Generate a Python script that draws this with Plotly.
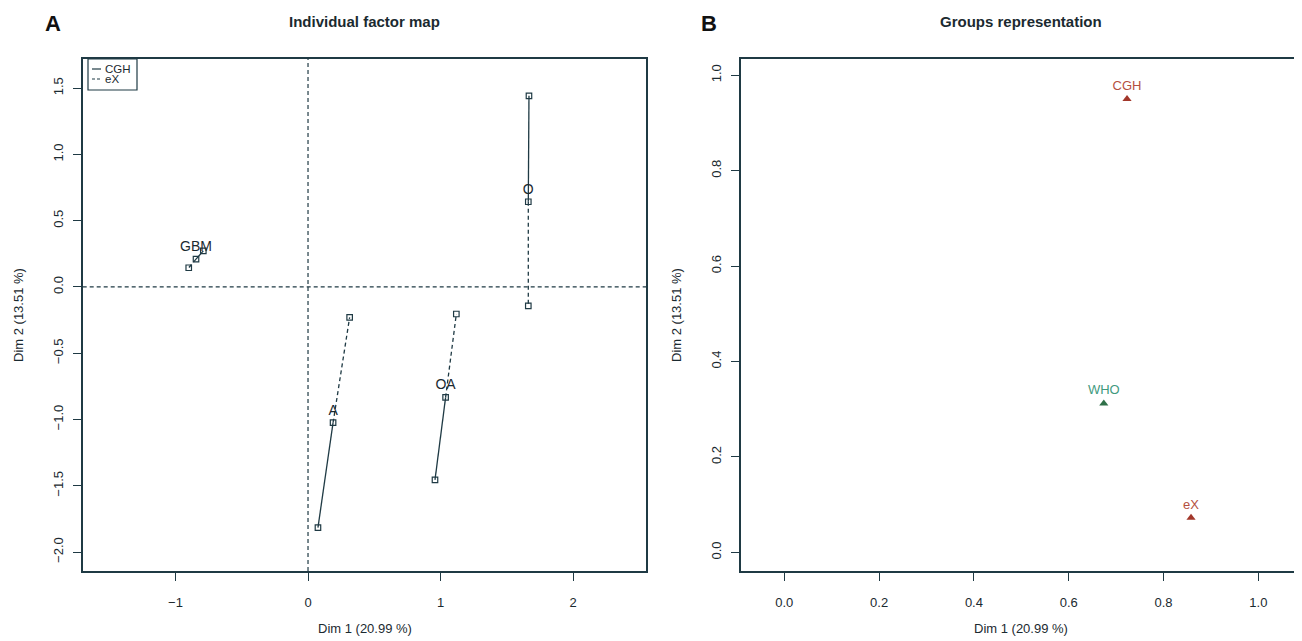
import plotly.graph_objects as go

# ---------------- data ----------------
individuals = ["GBM", "A", "OA", "O"]
mean_x = [-0.845, 0.189, 1.038, 1.662]
mean_y = [0.210, -1.024, -0.833, 0.643]
cgh_x = [-0.790, 0.075, 0.958, 1.667]
cgh_y = [0.272, -1.816, -1.456, 1.442]
ex_x = [-0.900, 0.314, 1.119, 1.662]
ex_y = [0.145, -0.229, -0.204, -0.142]

groups = ["CGH", "eX", "WHO"]
group_x = [0.723, 0.858, 0.674]
group_y = [0.950, 0.0725, 0.312]
group_marker_colors = ["#a2372a", "#a2372a", "#2f7048"]
group_text_colors = ["#b5503f", "#b5503f", "#3f9a7e"]

left_xticks = [-1, 0, 1, 2]
left_yticks = [-2.0, -1.5, -1.0, -0.5, 0.0, 0.5, 1.0, 1.5]
right_ticks = [0.0, 0.2, 0.4, 0.6, 0.8, 1.0]

# ---------------- style ----------------
OFF = 8  # page body margin
W, H = 1302 - OFF, 641 - OFF
DARK = "#1f3a44"
TXT = "#1b2a30"
FONT = "Liberation Sans, Arial, sans-serif"


def px(x):
    return (x - OFF) / W


def py(y):
    return 1 - (y - OFF) / H


# segments mean -> partial points
solid_x, solid_y, dash_x, dash_y = [], [], [], []
for i in range(len(individuals)):
    solid_x += [mean_x[i], cgh_x[i], None]
    solid_y += [mean_y[i], cgh_y[i], None]
    dash_x += [mean_x[i], ex_x[i], None]
    dash_y += [mean_y[i], ex_y[i], None]

fig = go.Figure()

fig.add_trace(go.Scatter(x=solid_x, y=solid_y, mode="lines",
                         line=dict(color=DARK, width=1.3),
                         xaxis="x", yaxis="y", showlegend=False, hoverinfo="skip"))
fig.add_trace(go.Scatter(x=dash_x, y=dash_y, mode="lines",
                         line=dict(color=DARK, width=1.3, dash="4px,3px"),
                         xaxis="x", yaxis="y", showlegend=False, hoverinfo="skip"))
fig.add_trace(go.Scatter(x=cgh_x + ex_x, y=cgh_y + ex_y, mode="markers",
                         marker=dict(symbol="square-open", size=5.5,
                                     color=DARK, line=dict(width=1.2, color=DARK)),
                         xaxis="x", yaxis="y", showlegend=False))
fig.add_trace(go.Scatter(x=mean_x, y=mean_y, mode="markers+text",
                         text=individuals, textposition="top center",
                         textfont=dict(family=FONT, size=14, color=TXT),
                         marker=dict(symbol="square-open", size=5.5,
                                     color=DARK, line=dict(width=1.2, color=DARK)),
                         xaxis="x", yaxis="y", showlegend=False))

# right panel
fig.add_trace(go.Scatter(x=group_x, y=group_y, mode="markers+text",
                         text=groups, textposition="top center",
                         textfont=dict(family=FONT, size=13, color=group_text_colors),
                         marker=dict(symbol="triangle-up", size=8,
                                     color=group_marker_colors),
                         xaxis="x2", yaxis="y2", showlegend=False))

# reference lines at 0
fig.add_shape(type="line", xref="x", yref="y domain", x0=0, x1=0, y0=0, y1=1,
              line=dict(color=DARK, width=1.2, dash="4px,3px"))
fig.add_shape(type="line", xref="x domain", yref="y", x0=0, x1=1, y0=0, y1=0,
              line=dict(color=DARK, width=1.2, dash="4px,3px"))

axis_common = dict(showgrid=False, zeroline=False, showline=True, mirror=True,
                   linecolor=DARK, linewidth=1.6, ticks="outside", ticklen=8,
                   tickwidth=1.3, tickcolor=DARK,
                   tickfont=dict(family=FONT, size=13, color=TXT))

fig.update_layout(
    width=W, height=H,
    margin=dict(l=0, r=0, t=0, b=0),
    paper_bgcolor="white", plot_bgcolor="white",
    xaxis=dict(domain=[px(82.7), px(646)], range=[-1.70, 2.55],
               tickvals=left_xticks, ticklabelstandoff=11, **axis_common),
    yaxis=dict(domain=[py(571), py(59)], range=[-2.143, 1.72],
               tickvals=left_yticks, tickformat=".1f", tickangle=-90,
               ticklabelstandoff=5, **axis_common),
    xaxis2=dict(domain=[px(740.7), min(1.0, px(1301))], range=[-0.092, 1.09],
                tickvals=right_ticks, tickformat=".1f", ticklabelstandoff=11,
                anchor="y2", **axis_common),
    yaxis2=dict(domain=[py(571), py(59)], range=[-0.039, 1.034],
                tickvals=right_ticks, tickformat=".1f", tickangle=-90,
                ticklabelstandoff=5, anchor="x2", **axis_common),
)

ann = []
# panel letters and titles
ann.append(dict(text="<b>A</b>", x=px(53), y=py(23), font=dict(size=22, color="#111", family=FONT)))
ann.append(dict(text="<b>B</b>", x=px(709), y=py(23), font=dict(size=22, color="#111", family=FONT)))
ann.append(dict(text="<b>Individual factor map</b>", x=px(364.5), y=py(22),
                font=dict(size=15, color=TXT, family=FONT)))
ann.append(dict(text="<b>Groups representation</b>", x=px(1021), y=py(22),
                font=dict(size=15, color=TXT, family=FONT)))
# axis titles
for cx in (364.5, 1021):
    ann.append(dict(text="Dim 1 (20.99 %)", x=px(cx), y=py(628),
                    font=dict(size=13, color=TXT, family=FONT)))
for cx in (19, 677):
    ann.append(dict(text="Dim 2 (13.51 %)", x=px(cx), y=py(315), textangle=-90,
                    font=dict(size=13, color=TXT, family=FONT)))
# legend labels
ann.append(dict(text="CGH", x=px(103), y=py(68.5), xanchor="left",
                font=dict(size=11.5, color=TXT, family=FONT)))
ann.append(dict(text="eX", x=px(103), y=py(79), xanchor="left",
                font=dict(size=11.5, color=TXT, family=FONT)))
for a in ann:
    a.setdefault("xref", "paper")
    a.setdefault("yref", "paper")
    a.setdefault("showarrow", False)
    a.setdefault("xanchor", "center")
    a.setdefault("yanchor", "middle")
fig.update_layout(annotations=ann)

# legend box and keys
fig.add_shape(type="rect", xref="paper", yref="paper",
              x0=px(88), x1=px(137), y0=py(90), y1=py(59),
              line=dict(color=DARK, width=1.2), fillcolor="white")
fig.add_shape(type="line", xref="paper", yref="paper",
              x0=px(92), x1=px(101), y0=py(69), y1=py(69),
              line=dict(color=DARK, width=1.2))
fig.add_shape(type="line", xref="paper", yref="paper",
              x0=px(92), x1=px(101), y0=py(79), y1=py(79),
              line=dict(color=DARK, width=1.2, dash="3px,2px"))

fig.write_html("out.html")
